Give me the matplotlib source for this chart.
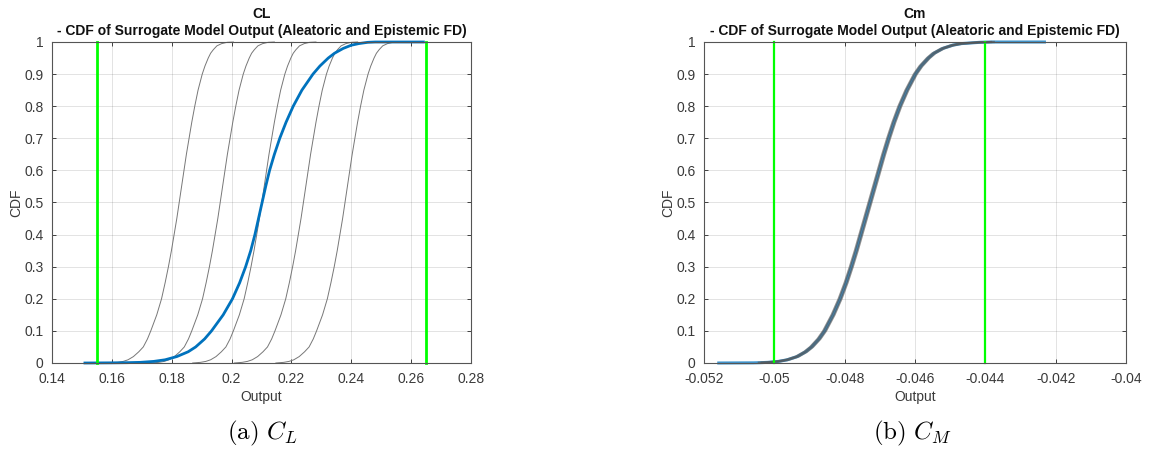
import matplotlib
matplotlib.use("Agg")
import matplotlib.pyplot as plt

plt.rcParams["font.family"] = ["Liberation Sans", "DejaVu Sans"]
plt.rcParams["mathtext.fontset"] = "cm"

cl_levels = [0, 0.002, 0.005, 0.01, 0.02, 0.035, 0.05, 0.075, 0.1, 0.15, 0.2,
             0.25, 0.3, 0.35, 0.4, 0.45, 0.5, 0.55, 0.6, 0.65, 0.7, 0.75, 0.8,
             0.85, 0.9, 0.925, 0.95, 0.965, 0.976, 0.988, 0.995, 0.999, 1]

# CL: epistemic (gray) CDFs, output value at each level
cl_gray = [
    [0.1594, 0.1620, 0.1638, 0.1654, 0.1672, 0.1690, 0.1705, 0.1719, 0.1730,
     0.1750, 0.1766, 0.1778, 0.1789, 0.1799, 0.1808, 0.1817, 0.1825, 0.1833,
     0.1841, 0.1849, 0.1858, 0.1867, 0.1877, 0.1888, 0.1902, 0.1911, 0.1922,
     0.1930, 0.1939, 0.1951, 0.1967, 0.1985, 0.2006],
    [0.1731, 0.1757, 0.1775, 0.1791, 0.1809, 0.1827, 0.1842, 0.1856, 0.1867,
     0.1887, 0.1903, 0.1915, 0.1926, 0.1936, 0.1945, 0.1954, 0.1962, 0.1970,
     0.1978, 0.1986, 0.1995, 0.2004, 0.2014, 0.2025, 0.2039, 0.2048, 0.2059,
     0.2067, 0.2076, 0.2088, 0.2104, 0.2122, 0.2143],
    [0.1870, 0.1896, 0.1914, 0.1930, 0.1948, 0.1966, 0.1981, 0.1995, 0.2006,
     0.2026, 0.2042, 0.2054, 0.2065, 0.2075, 0.2084, 0.2093, 0.2101, 0.2109,
     0.2117, 0.2125, 0.2134, 0.2143, 0.2153, 0.2164, 0.2178, 0.2187, 0.2198,
     0.2206, 0.2215, 0.2227, 0.2243, 0.2261, 0.2282],
    [0.2009, 0.2035, 0.2053, 0.2069, 0.2087, 0.2105, 0.2120, 0.2134, 0.2145,
     0.2165, 0.2181, 0.2193, 0.2204, 0.2214, 0.2223, 0.2232, 0.2240, 0.2248,
     0.2256, 0.2264, 0.2273, 0.2282, 0.2292, 0.2303, 0.2317, 0.2326, 0.2337,
     0.2345, 0.2354, 0.2366, 0.2382, 0.2400, 0.2421],
    [0.2148, 0.2174, 0.2192, 0.2208, 0.2226, 0.2244, 0.2259, 0.2273, 0.2284,
     0.2304, 0.2320, 0.2332, 0.2343, 0.2353, 0.2362, 0.2371, 0.2379, 0.2387,
     0.2395, 0.2403, 0.2412, 0.2421, 0.2431, 0.2442, 0.2456, 0.2465, 0.2476,
     0.2484, 0.2493, 0.2505, 0.2521, 0.2539, 0.2560],
]

# CDF levels for the blue (combined) curves in both panels
blue_levels = [0, 0.0005, 0.001, 0.002, 0.005, 0.01, 0.02, 0.035, 0.05,
               0.075, 0.1, 0.15, 0.2, 0.25, 0.3, 0.35, 0.4, 0.45, 0.5, 0.55,
               0.6, 0.65, 0.7, 0.75, 0.8, 0.85, 0.9, 0.925, 0.95, 0.965, 0.98,
               0.99, 0.995, 0.999, 1, 1]
cl_blue = [0.1510, 0.1600, 0.1650, 0.1695, 0.1740, 0.1778, 0.1817, 0.1855,
           0.1880, 0.1910, 0.1933, 0.1972, 0.2003, 0.2027, 0.2047, 0.2064,
           0.2078, 0.2090, 0.2102, 0.2114, 0.2127, 0.2143, 0.2161, 0.2182,
           0.2206, 0.2235, 0.2272, 0.2295, 0.2323, 0.2344, 0.2373, 0.2400,
           0.2425, 0.2455, 0.2480, 0.2641]
cl_bounds = [0.155, 0.265]

# Cm
cm_blue = [-0.05158, -0.05060, -0.05040, -0.05019, -0.04988, -0.04963,
           -0.04935, -0.04911, -0.04894, -0.04873, -0.04857, -0.04833,
           -0.04813, -0.04796, -0.04781, -0.04767, -0.04754, -0.04741,
           -0.04728, -0.04715, -0.04702, -0.04689, -0.04675, -0.04660,
           -0.04643, -0.04623, -0.04599, -0.04583, -0.04562, -0.04546,
           -0.04521, -0.04493, -0.04468, -0.04416, -0.04380, -0.04232]
cm_levels = [0.001, 0.002, 0.005, 0.01, 0.02, 0.035, 0.05, 0.075, 0.1, 0.15,
             0.2, 0.25, 0.3, 0.35, 0.4, 0.45, 0.5, 0.55, 0.6, 0.65, 0.7, 0.75,
             0.8, 0.85, 0.9, 0.925, 0.95, 0.965, 0.98, 0.99, 0.995, 0.999, 1]
cm_gray = [
    [-0.05044, -0.05023, -0.04992, -0.04967, -0.04939, -0.04915, -0.04898,
     -0.04877, -0.04861, -0.04837, -0.04817, -0.04800, -0.04785, -0.04771,
     -0.04758, -0.04745, -0.04732, -0.04719, -0.04706, -0.04693, -0.04679,
     -0.04664, -0.04647, -0.04627, -0.04603, -0.04587, -0.04566, -0.04550,
     -0.04525, -0.04497, -0.04472, -0.04420, -0.04384],
    [-0.05036, -0.05015, -0.04984, -0.04959, -0.04931, -0.04907, -0.04890,
     -0.04869, -0.04853, -0.04829, -0.04809, -0.04792, -0.04777, -0.04763,
     -0.04750, -0.04737, -0.04724, -0.04711, -0.04698, -0.04685, -0.04671,
     -0.04656, -0.04639, -0.04619, -0.04595, -0.04579, -0.04558, -0.04542,
     -0.04517, -0.04489, -0.04464, -0.04412, -0.04376],
]
cm_bounds = [-0.050, -0.044]

cl_xticks = [0.14, 0.16, 0.18, 0.20, 0.22, 0.24, 0.26, 0.28]
cl_xlabels = ["0.14", "0.16", "0.18", "0.2", "0.22", "0.24", "0.26", "0.28"]
cm_xticks = [-0.052, -0.050, -0.048, -0.046, -0.044, -0.042, -0.040]
cm_xlabels = ["-0.052", "-0.05", "-0.048", "-0.046", "-0.044", "-0.042", "-0.04"]
yticks = [0, 0.1, 0.2, 0.3, 0.4, 0.5, 0.6, 0.7, 0.8, 0.9, 1]
ylabels = ["0", "0.1", "0.2", "0.3", "0.4", "0.5", "0.6", "0.7", "0.8", "0.9", "1"]

axcol = "#262626"
txtcol = "#3a3a3a"
blue = "#0072BD"
green = "#00FF00"


def style(ax, xticks, xlabels, title):
    ax.set_ylim(0, 1)
    ax.set_xlim(xticks[0], xticks[-1])
    ax.set_xticks(xticks)
    ax.set_xticklabels(xlabels)
    ax.set_yticks(yticks)
    ax.set_yticklabels(ylabels)
    ax.grid(True, color="#262626", alpha=0.15, lw=0.6)
    ax.set_axisbelow(True)
    ax.tick_params(direction="in", top=True, right=True, length=3,
                   width=0.6, colors=axcol, labelcolor=txtcol, labelsize=10)
    ax.tick_params(axis="x", pad=6.5)
    ax.tick_params(axis="y", pad=6)
    for s in ax.spines.values():
        s.set_color("#555555")
        s.set_linewidth(0.8)
    ax.set_xlabel("Output", fontsize=10, color=txtcol, labelpad=3)
    ax.set_ylabel("CDF", fontsize=10, color=txtcol, labelpad=1)
    ax.set_title(title, fontsize=10, fontweight="bold", color="#111111",
                 pad=5, linespacing=1.25)


fig = plt.figure(figsize=(11.5, 4.55), dpi=100)
ax1 = fig.add_axes([52 / 1150, 92 / 455, 419 / 1150, 321 / 455])
ax2 = fig.add_axes([704 / 1150, 92 / 455, 422 / 1150, 321 / 455])

for xs in cl_gray:
    ax1.plot(xs, cl_levels, color="#777777", lw=0.7, clip_on=False)
ax1.plot(cl_blue, blue_levels, color=blue, lw=2.0, clip_on=False)
for b in cl_bounds:
    ax1.plot([b, b], [0, 1], color=green, lw=2.0, clip_on=False)
style(ax1, cl_xticks, cl_xlabels,
      "CL\n- CDF of Surrogate Model Output (Aleatoric and Epistemic FD)")

ax2.plot(cm_blue, blue_levels, color=blue, lw=2.2, alpha=0.75, clip_on=False)
for xs in cm_gray:
    ax2.plot(xs, cm_levels, color="#555555", lw=1.6, alpha=0.65, clip_on=False)
for b in cm_bounds:
    ax2.plot([b, b], [0, 1], color=green, lw=1.6, clip_on=False)
style(ax2, cm_xticks, cm_xlabels,
      "Cm\n- CDF of Surrogate Model Output (Aleatoric and Epistemic FD)")

fig.text(262 / 1150, 1 - 433 / 455, r"$\mathrm{(a)}\ C_L$", fontsize=18,
         ha="center", va="center", color="black")
fig.text(912 / 1150, 1 - 433 / 455, r"$\mathrm{(b)}\ C_M$", fontsize=18,
         ha="center", va="center", color="black")

fig.savefig("out.png", dpi=100)
